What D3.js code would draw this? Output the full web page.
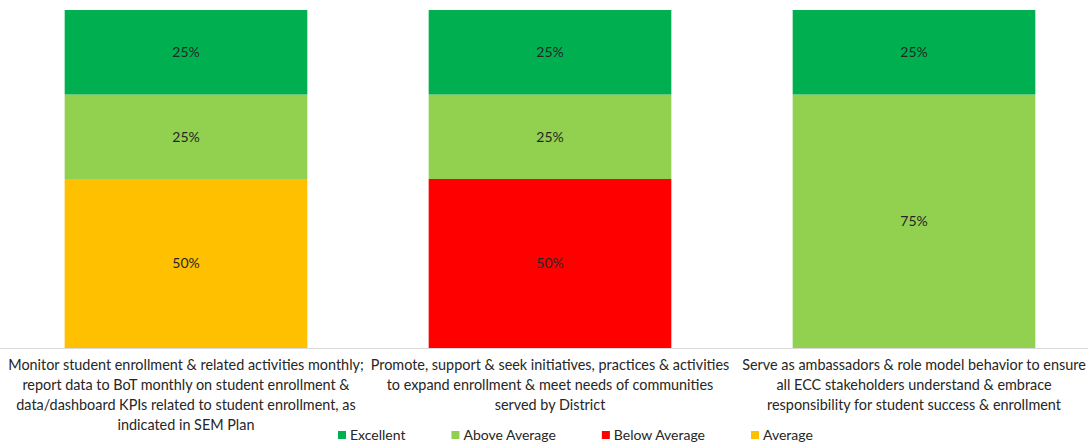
<!DOCTYPE html>
<html>
<head>
<meta charset="utf-8">
<script src="https://cdn.jsdelivr.net/npm/d3@7"></script>
<style>
  body { margin: 0; background: #fff; }
  text { font-family: Lato, "Open Sans", sans-serif; }
</style>
</head>
<body>
<script>
// chart data
let categories = [
  ["Monitor student enrollment & related activities monthly;", "report data to BoT monthly on student enrollment &", "data/dashboard KPIs related to student enrollment, as", "indicated in SEM Plan"],
  ["Promote, support & seek initiatives, practices & activities", "to expand enrollment & meet needs of communities", "served by District"],
  ["Serve as ambassadors & role model behavior to ensure", "all ECC stakeholders understand & embrace", "responsibility for student success & enrollment"]
]
let excellent = [0.25, 0.25, 0.25]
let aboveAverage = [0.25, 0.25, 0.75]
let belowAverage = [0, 0.5, 0]
let average = [0.5, 0, 0]

let seriesNames = ["Excellent", "Above Average", "Below Average", "Average"]
let seriesColors = ["#00B050", "#92D050", "#FF0000", "#FFC000"]

let svgWidth = 1088
let svgHeight = 444

let svg = d3.select("body")
  .append("svg")
  .attr("width", svgWidth)
  .attr("height", svgHeight)

// build rows for the stack
let rows = categories.map((c, i) => ({
  idx: i,
  "Excellent": excellent[i],
  "Above Average": aboveAverage[i],
  "Below Average": belowAverage[i],
  "Average": average[i]
}))

// bottom to top
let stackKeys = ["Average", "Below Average", "Above Average", "Excellent"]
let stacked = d3.stack().keys(stackKeys)(rows)

let color = d3.scaleOrdinal().domain(seriesNames).range(seriesColors)

let x = d3.scaleBand()
  .domain(categories.map((c, i) => i))
  .range([4, 1096])
  .paddingInner(1 / 3)
  .paddingOuter(1 / 6)

let y = d3.scaleLinear()
  .domain([0, 1])
  .range([348, 10])

// bars
let layer = svg.selectAll(".layer")
  .data(stacked)
  .enter().append("g")
  .attr("class", "layer")
  .attr("fill", d => color(d.key))

layer.selectAll("rect")
  .data(d => d.filter(p => p[1] - p[0] > 0))
  .enter().append("rect")
  .attr("x", d => x(d.data.idx))
  .attr("y", d => y(d[1]))
  .attr("width", x.bandwidth())
  .attr("height", d => y(d[0]) - y(d[1]))

layer.selectAll("text")
  .data(d => d.filter(p => p[1] - p[0] > 0))
  .enter().append("text")
  .attr("x", d => x(d.data.idx) + x.bandwidth() / 2)
  .attr("y", d => (y(d[0]) + y(d[1])) / 2)
  .attr("dy", "0.35em")
  .attr("text-anchor", "middle")
  .attr("font-size", 14)
  .attr("fill", "#262626")
  .text(d => Math.round((d[1] - d[0]) * 100) + "%")

// axis line
svg.append("line")
  .attr("x1", 0)
  .attr("x2", svgWidth)
  .attr("y1", 348.5)
  .attr("y2", 348.5)
  .attr("stroke", "#d9d9d9")
  .attr("stroke-width", 1)

// category labels
let catLabel = svg.selectAll(".cat")
  .data(categories)
  .enter().append("text")
  .attr("class", "cat")
  .attr("text-anchor", "middle")
  .attr("font-size", 14.4)
  .attr("fill", "#262626")

catLabel.selectAll("tspan")
  .data((d, i) => d.map(line => ({ line: line, i: i })))
  .enter().append("tspan")
  .attr("x", d => x(d.i) + x.bandwidth() / 2)
  .attr("y", (d, j) => 365 + j * 20)
  .attr("dy", "0.35em")
  .text(d => d.line)

// legend
let legend = svg.append("g")
let lx = 338
seriesNames.forEach(function(name) {
  let item = legend.append("g").attr("transform", `translate(${lx}, 435)`)
  item.append("rect")
    .attr("x", 0)
    .attr("y", -4)
    .attr("width", 8)
    .attr("height", 8)
    .attr("fill", color(name))
  let t = item.append("text")
    .attr("x", 12)
    .attr("y", 0)
    .attr("dy", "0.35em")
    .attr("font-size", 14)
    .attr("fill", "#262626")
    .text(name)
  lx += 12 + t.node().getComputedTextLength() + 46
})
</script>
</body>
</html>
